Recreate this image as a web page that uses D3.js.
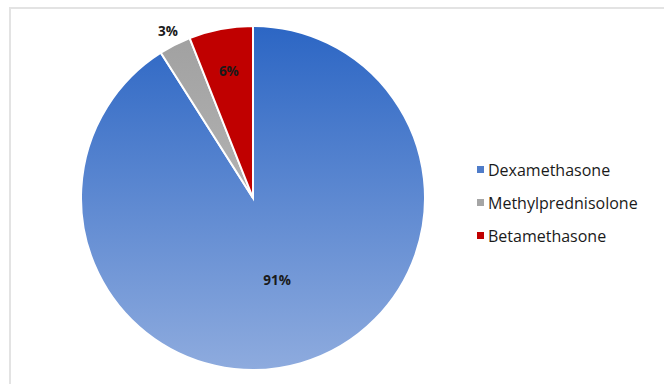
<!DOCTYPE html>
<html>
<head>
<meta charset="utf-8">
<script src="https://cdn.jsdelivr.net/npm/d3@7"></script>
<style>
  body { margin: 0; background: #fff; }
  svg { display: block; font-family: "Open Sans", Lato, sans-serif; }
</style>
</head>
<body>
<div class="canvas"></div>
<script>
// data
const drugs = ["Dexamethasone", "Methylprednisolone", "Betamethasone"];
const shares = [91, 3, 6];
const labels = ["91%", "3%", "6%"];

const svgWidth = 664, svgHeight = 384;
const cx = 253, cy = 198, radius = 172;

const svg = d3.select(".canvas").append("svg")
  .attr("width", svgWidth)
  .attr("height", svgHeight);

// chart frame
svg.append("rect")
  .attr("x", 10).attr("y", 8)
  .attr("width", 700).attr("height", 420)
  .attr("fill", "none")
  .attr("stroke", "#e3e3e3")
  .attr("stroke-width", 2);

// gradients (top to bottom over the whole pie, in the pie group's coordinates)
const defs = svg.append("defs");
function grad(id, top, bottom) {
  const g = defs.append("linearGradient")
    .attr("id", id)
    .attr("gradientUnits", "userSpaceOnUse")
    .attr("x1", 0).attr("y1", -radius)
    .attr("x2", 0).attr("y2", radius);
  g.append("stop").attr("offset", "0%").attr("stop-color", top);
  g.append("stop").attr("offset", "100%").attr("stop-color", bottom);
}
grad("gBlue", "#2c66c4", "#8eabde");
grad("gGray", "#a0a0a0", "#c4c4c4");
grad("gRed", "#c00000", "#c00000");

const fills = ["url(#gBlue)", "url(#gGray)", "url(#gRed)"];
const legendColors = ["#4f7cc9", "#a5a5a5", "#c00000"];

const pie = d3.pie().sort(null).value(d => d)(shares);
const arc = d3.arc().innerRadius(0).outerRadius(radius);

const g = svg.append("g").attr("transform", `translate(${cx},${cy})`);

g.selectAll("path")
  .data(pie)
  .join("path")
  .attr("d", arc)
  .attr("fill", (d, i) => fills[i])
  .attr("stroke", "#fff")
  .attr("stroke-width", 2);

// label radius per slice (Excel best fit: large inside, small outside)
const labelRadius = [0.5, 1.09, 0.75];
g.selectAll("text.pct")
  .data(pie)
  .join("text")
  .attr("class", "pct")
  .attr("transform", (d, i) => {
    const r = radius * labelRadius[i];
    const c = d3.arc().innerRadius(r).outerRadius(r).centroid(d);
    return `translate(${c[0]},${c[1]})`;
  })
  .attr("text-anchor", "middle")
  .attr("dy", "0.35em")
  .attr("font-size", 13.5)
  .attr("font-weight", "bold")
  .attr("fill", "#1a1a1a")
  .text((d, i) => labels[i]);

// legend
const legendX = 477, legendY = 170, legendStep = 33;
const legend = svg.selectAll(".legend")
  .data(drugs)
  .join("g")
  .attr("class", "legend")
  .attr("transform", (d, i) => `translate(${legendX},${legendY + i * legendStep})`);

legend.append("rect")
  .attr("x", 0).attr("y", -4)
  .attr("width", 7).attr("height", 7)
  .attr("fill", (d, i) => legendColors[i]);

legend.append("text")
  .attr("x", 11)
  .attr("dy", "0.35em")
  .attr("font-size", 16)
  .attr("fill", "#1a1a1a")
  .text(d => d);
</script>
</body>
</html>
